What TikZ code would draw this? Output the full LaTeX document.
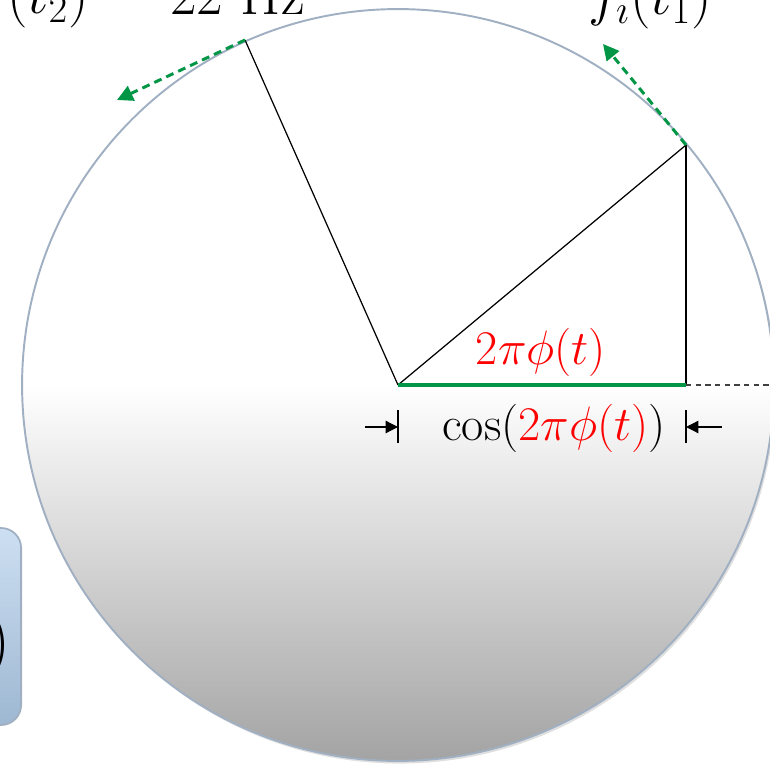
\RequirePackage{fix-cm}
\documentclass[tikz,border=0pt]{standalone}
\usepackage{amsmath,amssymb}
\usepackage{xcolor}
\usepackage{tikz}
\usetikzlibrary{arrows.meta,positioning,calc,shadows}

\definecolor{rimblue}{RGB}{160,176,194}
\definecolor{phasegreen}{RGB}{0,150,70}
\definecolor{boxtop}{RGB}{205,223,242}
\definecolor{boxbot}{RGB}{158,184,210}

\begin{document}
\begin{tikzpicture}[
 x=0.02cm, y=-0.02cm,
 >={Triangle[length=7pt,width=7pt]},
 wheel/.style={draw=rimblue, line width=1.1pt, top color=white, bottom color=black!36, middle color=white,
 drop shadow={shadow xshift=1pt, shadow yshift=-1.5pt, opacity=0.25, fill=black!50}},
 spoke/.style={draw=black, line width=0.7pt},
 tang/.style={draw=phasegreen, line width=1.7pt, dash pattern=on 4.5pt off 3pt,
 -{Triangle[length=9pt,width=9pt]}, phasegreen},
 dim/.style={draw=black, line width=0.7pt, ->},
 lbl/.style={inner sep=0pt, font=\fontsize{27.5}{32}\selectfont},
 toplbl/.style={inner sep=0pt, font=\fontsize{33}{38}\selectfont},
 sigbox/.style={rectangle, rounded corners=0.4cm, draw=rimblue, line width=1pt,
 top color=boxtop, bottom color=boxbot},
]
\useasboundingbox (0,0) rectangle (770,766);

% left box (only its right part is seen)
\node[sigbox, minimum width=4cm, minimum height=3.94cm, anchor=east] (box) at (22,626.5) {};
\node[anchor=east, inner sep=0pt, font=\fontsize{39}{44}\selectfont] (boxtxt) at (11,645) {)};

% unit circle
\path[wheel] (398,385) circle[radius=7.52cm];

\coordinate (O) at (398,385);
\coordinate (P1) at (686,145);
\coordinate (P2) at (245,40);
\coordinate (F) at (686,385);
\coordinate (R) at (772,385);
\coordinate (T1) at (603,44);
\coordinate (T2) at (117,100);

% spokes
\draw[spoke] (O) -- (P1);
\draw[spoke] (O) -- (P2);
\draw[spoke] (P1) -- (F);
\draw[draw=black!75, line width=0.7pt, dash pattern=on 3pt off 2.5pt] (F) -- (R);
\draw[draw=phasegreen, line width=2.8pt] (O) -- (F);

% tangent velocities
\draw[tang] (P1) -- (T1);
\draw[tang] (P2) -- (T2);

% angle label
\node[lbl, text=red] (ang) at (541,352) {$2\pi\phi(t)$};

% dimension of cos
\coordinate (LT) at (398,410); \coordinate (LB) at (398,443);
\coordinate (RT) at (686,410); \coordinate (RB) at (686,443);
\draw[spoke] (LT) -- (LB);
\draw[spoke] (RT) -- (RB);
\coordinate (La) at (365,427); \coordinate (Lb) at (398,427);
\coordinate (Ra) at (722,427); \coordinate (Rb) at (686,427);
\draw[dim] (La) -- (Lb);
\draw[dim] (Ra) -- (Rb);
\node[lbl] (cosl) at (554,428) {$\cos(\textcolor{red}{2\pi\phi(t)})$};

% labels above (cut at the top)
\node[toplbl, anchor=base east] (t2) at (89,14) {$(t_2)$};
\node[toplbl, anchor=base east] (hz) at (305,15) {22 Hz};
\node[toplbl, anchor=base east] (f1) at (712,15) {$f_i(t_1)$};
\end{tikzpicture}
\end{document}
